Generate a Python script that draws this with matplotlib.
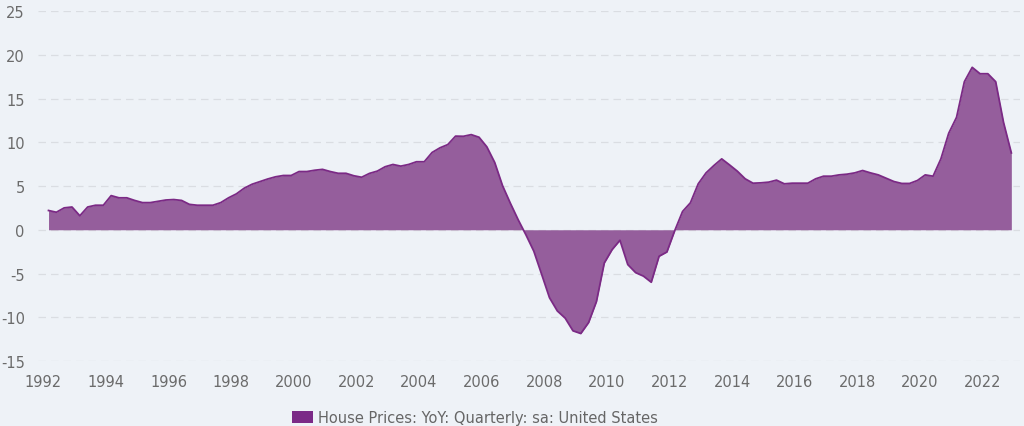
import matplotlib.pyplot as plt
from matplotlib.patches import Patch
import numpy as np

plt.rcParams['axes.unicode_minus'] = False

# quarterly YoY house price change, 1992Q1 .. 2022Q4
start_year = 1992
values = [
    2.2, 2.0, 2.5, 2.6, 1.6, 2.6, 2.8, 2.8, 3.9, 3.65,
    3.65, 3.35, 3.1, 3.1, 3.25, 3.4, 3.45, 3.35, 2.9, 2.8,
    2.8, 2.8, 3.1, 3.65, 4.1, 4.75, 5.2, 5.5, 5.8, 6.05,
    6.2, 6.2, 6.65, 6.65, 6.8, 6.9, 6.65, 6.45, 6.45,
    6.17, 6.0, 6.44, 6.7, 7.2, 7.46, 7.27, 7.46, 7.77, 7.77,
    8.83, 9.36, 9.73, 10.7, 10.68, 10.87, 10.57, 9.47, 7.69, 5.04,
    3.03, 1.14, -0.6, -2.46, -5.1, -7.77, -9.28, -10.1, -11.55, -11.86,
    -10.6, -8.2, -3.8, -2.27, -1.2, -3.98, -4.9, -5.3, -6.0, -3.03,
    -2.54,
    -0.1, 2.09, 3.08, 5.25, 6.5, 7.34, 8.1, 7.41, 6.69, 5.82,
    5.32, 5.36, 5.44, 5.67, 5.25, 5.32, 5.32, 5.32, 5.82, 6.12,
    6.12, 6.27, 6.35, 6.5, 6.77, 6.5, 6.27, 5.89, 5.51, 5.29,
    5.29, 5.63, 6.27, 6.12, 8.1, 11.03, 12.85, 16.92, 18.56, 17.83,
    17.83, 16.92, 12.28, 8.78,
]
year_ticks = list(range(1992, 2023, 2))
y_ticks = [-15, -10, -5, 0, 5, 10, 15, 20, 25]
series_name = 'House Prices: YoY: Quarterly: sa: United States'

# quarter end months (Mar, Jun, Sep, Dec) as decimal years
dates = start_year + 2/12 + 0.25 * np.arange(len(values))

bg = '#eef2f7'
line_c = '#7b2a85'
fill_c = '#955e9c'
txt_c = '#6b6b6b'

fig = plt.figure(figsize=(10.24, 4.27), dpi=100, facecolor=bg)
ax = fig.add_axes([0.0371, 0.1522, 0.9589, 0.8197], facecolor=bg)

ax.fill_between(dates, values, 0, color=fill_c, linewidth=0, zorder=2)
ax.plot(dates, values, color=line_c, linewidth=1.3, zorder=3)

ax.set_xlim(1991.83, 2023.19)
ax.set_ylim(-15, 25)
ax.set_xticks(year_ticks)
ax.set_yticks(y_ticks)
ax.grid(axis='y', color='#dadde2', linestyle=(0, (6, 4)), linewidth=0.9, zorder=0)
ax.grid(axis='x', visible=False)
for s in ax.spines.values():
    s.set_visible(False)
ax.tick_params(axis='both', length=0, labelsize=10.5, colors=txt_c)
ax.tick_params(axis='y', pad=9.5)
ax.tick_params(axis='x', pad=9)

handle = Patch(facecolor='#7b2a87', edgecolor='none')
fig.legend([handle], [series_name], loc='center', bbox_to_anchor=(0.464, 0.019),
           frameon=False, fontsize=10.5, labelcolor='#666666', handlelength=1.4,
           handleheight=0.9, handletextpad=0.35)

fig.savefig('out.png', dpi=100, facecolor=bg)
